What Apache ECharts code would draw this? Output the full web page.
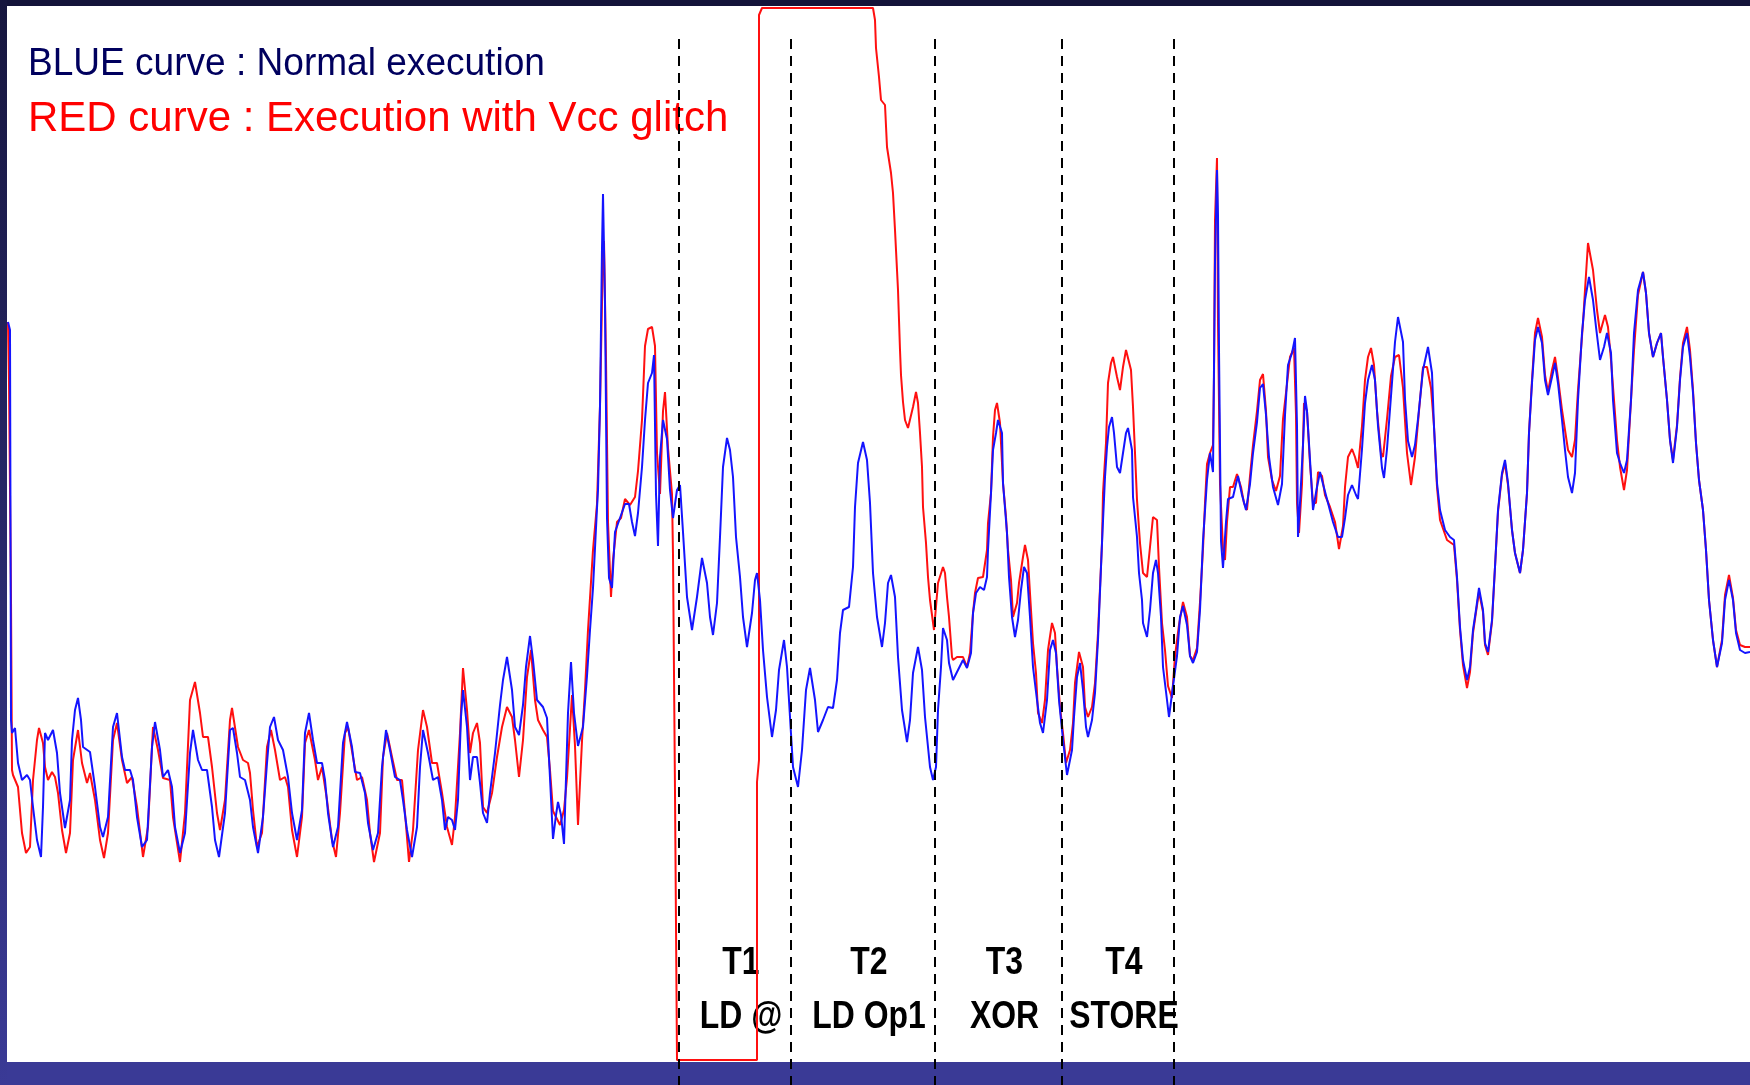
<!DOCTYPE html>
<html>
<head>
<meta charset="utf-8">
<title>Normal execution vs Vcc glitch</title>
<script src="https://cdn.jsdelivr.net/npm/echarts@6/dist/echarts.min.js"></script>
<style>
  html, body { margin: 0; padding: 0; background: #fff; }
  #chart { width: 1750px; height: 1085px; }
</style>
</head>
<body>
<div id="chart"></div>
<script>
const blueT = [
  8, 10, 11, 12, 15, 18, 22, 27, 30, 33,
  37, 41, 43, 45, 48, 53, 57, 60, 65, 70,
  72, 75, 78, 81, 83, 90, 95, 100, 103, 108,
  113, 117, 122, 125, 130, 133, 137, 142, 147, 152,
  155, 160, 163, 168, 172, 175, 180, 185, 190, 193,
  198, 202, 207, 212, 215, 219, 225, 230, 233, 237,
  240, 245, 250, 253, 258, 263, 267, 270, 274, 278,
  283, 288, 292, 297, 302, 305, 309, 313, 317, 322,
  325, 328, 333, 338, 343, 347, 352, 355, 360, 365,
  368, 373, 378, 382, 386, 390, 395, 400, 403, 407,
  412, 417, 420, 423, 428, 433, 438, 442, 445, 448,
  452, 455, 458, 461, 463, 467, 470, 473, 477, 480,
  483, 487, 490, 495, 500, 503, 507, 512, 515, 519,
  523, 526, 530, 533, 537, 543, 547, 550, 553, 556,
  558, 561, 564, 568, 571, 574, 578, 583, 587, 590,
  593, 597, 598, 600, 602, 603, 605, 607, 609, 612,
  615, 620, 625, 629, 632, 635, 638, 642, 645, 648,
  652, 654, 656, 658, 660, 663, 667, 670, 673, 677,
  680, 683, 687, 692, 697, 702, 707, 710, 713, 717,
  720, 723, 727, 730, 733, 736, 740, 743, 747, 752,
  755, 757, 760, 763, 767, 772, 776, 779, 784, 787,
  790, 793, 798, 802, 806, 810, 815, 818, 823, 828,
  833, 837, 840, 843, 849, 853, 855, 858, 863, 867,
  870, 873, 877, 882, 885, 888, 891, 895, 898, 902,
  907, 910, 913, 918, 922, 925, 930, 933, 936, 938,
  941, 943, 947, 949, 953, 958, 963, 967, 971, 973,
  976, 980, 984, 987, 988, 991, 993, 996, 998, 1002,
  1003, 1007, 1009, 1012, 1015, 1018, 1021, 1024, 1027, 1030,
  1033, 1037, 1040, 1043, 1047, 1050, 1053, 1056, 1059, 1063,
  1067, 1072, 1074, 1077, 1080, 1083, 1086, 1088, 1092, 1095,
  1098, 1102, 1105, 1107, 1109, 1112, 1114, 1117, 1120, 1123,
  1126, 1128, 1132, 1133, 1137, 1139, 1142, 1143, 1147, 1150,
  1153, 1156, 1158, 1161, 1163, 1167, 1169, 1173, 1177, 1180,
  1183, 1187, 1190, 1193, 1197, 1200, 1203, 1207, 1210, 1213,
  1215, 1217, 1218, 1219, 1221, 1223, 1226, 1228, 1233, 1236,
  1238, 1242, 1246, 1250, 1253, 1257, 1260, 1263, 1266, 1269,
  1273, 1278, 1282, 1285, 1288, 1292, 1295, 1297, 1298, 1300,
  1303, 1305, 1307, 1311, 1313, 1317, 1320, 1323, 1328, 1333,
  1338, 1342, 1345, 1348, 1352, 1356, 1358, 1362, 1365, 1368,
  1372, 1375, 1378, 1382, 1384, 1387, 1391, 1395, 1398, 1403,
  1405, 1408, 1412, 1415, 1418, 1423, 1428, 1432, 1434, 1437,
  1440, 1445, 1450, 1454, 1457, 1460, 1463, 1467, 1470, 1473,
  1476, 1479, 1483, 1485, 1488, 1492, 1495, 1498, 1502, 1505,
  1508, 1512, 1515, 1520, 1523, 1527, 1529, 1532, 1535, 1538,
  1542, 1545, 1548, 1552, 1555, 1558, 1562, 1565, 1568, 1572,
  1575, 1578, 1582, 1585, 1589, 1593, 1596, 1600, 1604, 1607,
  1611, 1613, 1617, 1620, 1624, 1627, 1631, 1634, 1638, 1643,
  1646, 1649, 1653, 1657, 1661, 1663, 1667, 1670, 1673, 1677,
  1680, 1683, 1687, 1690, 1693, 1696, 1699, 1703, 1706, 1709,
  1713, 1717, 1722, 1725, 1729, 1733, 1736, 1740, 1745, 1750
];
const blueV = [
  739, 731, 341, 328, 333, 298, 281, 286, 281, 254,
  221, 204, 254, 328, 321, 331, 308, 268, 233, 261,
  321, 351, 363, 341, 314, 309, 274, 234, 224, 244,
  334, 348, 304, 291, 291, 281, 244, 214, 221, 314,
  339, 311, 284, 291, 274, 234, 208, 228, 308, 331,
  301, 291, 291, 254, 221, 204, 248, 331, 333, 308,
  284, 281, 261, 234, 208, 244, 298, 334, 344, 321,
  311, 284, 248, 221, 251, 328, 348, 321, 298, 298,
  281, 248, 214, 234, 318, 339, 314, 289, 288, 268,
  238, 211, 228, 294, 331, 311, 284, 281, 261, 231,
  204, 234, 294, 331, 308, 281, 284, 261, 231, 244,
  241, 231, 261, 344, 371, 334, 281, 304, 304, 278,
  248, 238, 268, 308, 356, 381, 404, 371, 334, 326,
  356, 394, 425, 401, 361, 354, 343, 283, 222, 246,
  259, 246, 217, 348, 399, 348, 315, 334, 385, 431,
  473, 553, 571, 655, 813, 867, 757, 543, 483, 473,
  529, 543, 557, 557, 539, 525, 548, 594, 641, 678,
  688, 706, 567, 515, 604, 641, 622, 571, 543, 571,
  576, 529, 464, 431, 464, 503, 478, 444, 426, 458,
  524, 594, 623, 611, 584, 524, 484, 444, 414, 448,
  481, 488, 461, 411, 364, 324, 351, 391, 421, 394,
  344, 294, 274, 311, 371, 393, 361, 329, 341, 354,
  353, 381, 428, 451, 454, 494, 554, 598, 619, 601,
  558, 488, 444, 414, 438, 478, 486, 464, 404, 351,
  319, 341, 388, 414, 391, 344, 294, 281, 294, 351,
  394, 433, 421, 398, 381, 391, 401, 393, 408, 448,
  468, 474, 471, 484, 511, 568, 611, 628, 641, 628,
  578, 528, 484, 444, 424, 441, 471, 494, 488, 444,
  394, 361, 338, 328, 361, 411, 421, 408, 361, 321,
  286, 311, 344, 384, 398, 371, 334, 324, 341, 368,
  421, 518, 584, 614, 634, 644, 628, 594, 588, 608,
  628, 633, 611, 564, 524, 488, 461, 438, 424, 451,
  488, 501, 488, 444, 394, 361, 344, 375, 405, 444,
  455, 436, 405, 398, 409, 451, 520, 581, 608, 589,
  799, 891, 845, 711, 520, 493, 539, 562, 564, 577,
  585, 566, 551, 577, 608, 639, 673, 677, 646, 604,
  574, 556, 577, 646, 696, 708, 723, 635, 524, 558,
  616, 665, 650, 585, 551, 574, 589, 577, 558, 539,
  524, 524, 543, 566, 576, 566, 562, 612, 658, 681,
  696, 681, 635, 593, 583, 612, 665, 719, 744, 719,
  662, 620, 604, 616, 642, 691, 714, 688, 634, 578,
  551, 531, 524, 521, 484, 434, 401, 381, 394, 431,
  451, 473, 451, 418, 409, 441, 494, 551, 588, 601,
  578, 531, 508, 488, 511, 568, 628, 678, 721, 734,
  718, 681, 666, 684, 698, 678, 641, 611, 584, 568,
  588, 661, 728, 761, 784, 761, 734, 701, 714, 728,
  708, 661, 608, 598, 588, 601, 661, 728, 771, 789,
  768, 728, 704, 718, 728, 704, 661, 621, 598, 634,
  681, 714, 728, 704, 668, 618, 581, 551, 511, 461,
  421, 394, 418, 461, 481, 461, 428, 411, 408, 409
];

const redT = [
  8, 9, 10, 11, 12, 13, 15, 18, 22, 26,
  30, 33, 37, 39, 43, 45, 48, 52, 55, 58,
  62, 66, 70, 73, 78, 82, 87, 90, 95, 100,
  104, 108, 113, 117, 122, 127, 132, 137, 143, 148,
  153, 158, 163, 170, 173, 180, 185, 190, 195, 200,
  203, 208, 212, 217, 220, 225, 230, 232, 238, 243,
  248, 250, 253, 257, 262, 267, 271, 275, 280, 285,
  288, 292, 297, 302, 305, 309, 315, 318, 322, 327,
  332, 336, 340, 345, 348, 353, 357, 362, 367, 370,
  374, 380, 383, 387, 392, 397, 402, 405, 409, 413,
  418, 423, 427, 432, 437, 442, 447, 452, 455, 460,
  463, 467, 470, 473, 477, 480, 483, 487, 492, 497,
  502, 507, 512, 515, 519, 523, 527, 531, 535, 538,
  543, 547, 550, 553, 560, 564, 567, 572, 575, 578,
  582, 585, 588, 593, 597, 600, 603, 604, 606, 608,
  611, 613, 617, 621, 625, 630, 635, 638, 642, 645,
  648, 652, 655, 657, 660, 663, 665, 668, 672, 673,
  675, 677, 757, 757, 759, 759, 762, 873, 875, 876,
  879, 881, 885, 887, 891, 893, 895, 898, 900, 901,
  903, 905, 908, 913, 916, 918, 920, 922, 923, 926,
  928, 930, 934, 938, 943, 945, 947, 949, 952, 953,
  957, 963, 967, 970, 973, 975, 978, 983, 987, 988,
  991, 993, 995, 997, 1000, 1003, 1006, 1008, 1011, 1013,
  1017, 1019, 1023, 1025, 1028, 1031, 1033, 1036, 1038, 1042,
  1045, 1048, 1052, 1055, 1057, 1060, 1063, 1066, 1070, 1073,
  1075, 1079, 1083, 1085, 1088, 1092, 1095, 1098, 1102, 1103,
  1106, 1108, 1111, 1113, 1117, 1120, 1123, 1126, 1128, 1131,
  1133, 1135, 1137, 1140, 1143, 1147, 1150, 1153, 1157, 1159,
  1162, 1165, 1168, 1172, 1175, 1179, 1183, 1187, 1190, 1193,
  1197, 1200, 1203, 1205, 1207, 1210, 1213, 1214, 1215, 1217,
  1218, 1220, 1223, 1225, 1227, 1230, 1233, 1237, 1241, 1244,
  1247, 1250, 1253, 1257, 1260, 1263, 1266, 1268, 1272, 1276,
  1280, 1283, 1287, 1290, 1294, 1296, 1297, 1299, 1302, 1304,
  1307, 1310, 1313, 1316, 1318, 1322, 1325, 1330, 1335, 1339,
  1343, 1345, 1348, 1352, 1355, 1358, 1362, 1365, 1368, 1371,
  1374, 1377, 1381, 1383, 1387, 1391, 1395, 1399, 1403, 1407,
  1411, 1415, 1419, 1423, 1427, 1431, 1434, 1437, 1440, 1447,
  1454, 1457, 1460, 1463, 1467, 1470, 1473, 1476, 1479, 1483,
  1485, 1488, 1492, 1495, 1498, 1502, 1505, 1508, 1512, 1515,
  1520, 1523, 1527, 1529, 1532, 1535, 1538, 1542, 1545, 1548,
  1552, 1555, 1558, 1562, 1565, 1568, 1572, 1575, 1578, 1583,
  1585, 1588, 1593, 1597, 1600, 1605, 1608, 1611, 1617, 1620,
  1624, 1627, 1631, 1634, 1638, 1643, 1646, 1649, 1653, 1657,
  1661, 1663, 1667, 1670, 1673, 1677, 1680, 1683, 1687, 1690,
  1693, 1696, 1699, 1703, 1706, 1709, 1713, 1717, 1722, 1725,
  1729, 1733, 1736, 1740, 1745, 1750
];
const redV = [
  739, 678, 678, 463, 291, 286, 286, 274, 228, 208,
  214, 281, 321, 333, 318, 294, 281, 289, 284, 268,
  231, 208, 228, 301, 331, 298, 278, 288, 261, 221,
  203, 228, 321, 338, 301, 278, 284, 254, 204, 234,
  334, 311, 283, 281, 244, 199, 248, 361, 379, 348,
  324, 324, 294, 248, 231, 261, 341, 353, 314, 301,
  298, 288, 251, 214, 228, 314, 331, 311, 281, 284,
  274, 231, 204, 244, 318, 331, 301, 281, 294, 261,
  221, 204, 248, 328, 334, 304, 281, 284, 261, 228,
  199, 228, 304, 328, 304, 281, 281, 248, 199, 231,
  311, 351, 334, 298, 298, 268, 234, 216, 244, 328,
  393, 351, 308, 328, 338, 318, 254, 248, 268, 304,
  334, 354, 344, 321, 284, 321, 384, 411, 361, 341,
  331, 324, 291, 250, 236, 251, 283, 366, 315, 236,
  320, 371, 431, 511, 557, 655, 809, 820, 702, 539,
  464, 501, 539, 543, 562, 556, 564, 590, 641, 715,
  732, 734, 715, 608, 567, 650, 669, 613, 567, 506,
  269, 1, 1, 279, 301, 1046, 1053, 1053, 1041, 1013,
  984, 961, 956, 914, 888, 868, 831, 771, 711, 686,
  659, 641, 633, 654, 669, 658, 628, 594, 554, 518,
  484, 461, 431, 478, 494, 488, 464, 444, 404, 401,
  404, 404, 394, 408, 448, 468, 483, 484, 511, 538,
  568, 624, 651, 658, 638, 578, 544, 511, 481, 444,
  458, 478, 504, 516, 501, 451, 418, 388, 348, 338,
  361, 411, 438, 428, 394, 354, 328, 298, 311, 338,
  378, 409, 394, 354, 344, 354, 378, 428, 518, 568,
  618, 678, 698, 704, 684, 671, 694, 711, 713, 691,
  654, 608, 561, 518, 488, 484, 514, 544, 541, 494,
  438, 411, 375, 363, 405, 436, 459, 444, 405, 401,
  413, 459, 512, 558, 597, 608, 616, 685, 841, 903,
  738, 577, 512, 501, 539, 574, 574, 587, 574, 558,
  551, 585, 616, 650, 681, 687, 650, 604, 581, 570,
  585, 642, 677, 704, 713, 646, 558, 528, 577, 658,
  650, 597, 558, 558, 589, 585, 566, 554, 539, 512,
  535, 574, 604, 612, 604, 593, 635, 681, 704, 713,
  696, 650, 608, 604, 642, 685, 704, 706, 673, 608,
  576, 604, 650, 694, 694, 673, 635, 574, 541, 521,
  516, 481, 431, 396, 373, 389, 428, 449, 469, 449,
  416, 406, 439, 494, 549, 586, 598, 576, 531, 508,
  488, 511, 568, 628, 681, 728, 743, 724, 686, 669,
  691, 704, 683, 651, 631, 611, 604, 621, 671, 738,
  771, 818, 791, 751, 728, 746, 734, 701, 621, 594,
  571, 591, 661, 711, 766, 789, 768, 728, 704, 718,
  728, 704, 661, 621, 601, 636, 683, 718, 734, 711,
  671, 618, 581, 551, 511, 461, 421, 394, 421, 466,
  486, 463, 431, 416, 414, 414
];

// instruction boundaries (dashed lines) and phase names
const stepX = [679, 791, 935, 1062, 1174];
const stepNames = ['T1', 'T2', 'T3', 'T4'];
const stepOps = ['LD @', 'LD Op1', 'XOR', 'STORE'];
const legendTexts = ['BLUE curve : Normal execution', 'RED curve : Execution with Vcc glitch'];

const zip = (t, v) => t.map((x, i) => [x, v[i]]);
const FONT = '"Liberation Sans", Arial, Helvetica, sans-serif';

const chart = echarts.init(document.getElementById('chart'));

chart.setOption({
  animation: false,
  backgroundColor: '#ffffff',
  grid: { left: 7, right: 0, top: 6, bottom: 0, containLabel: false },
  xAxis: { type: 'value', min: 7, max: 1750, show: false },
  yAxis: { type: 'value', min: -24, max: 1055, show: false },
  series: [
    {
      name: 'glitch',
      type: 'line',
      data: zip(redT, redV),
      showSymbol: false,
      symbol: 'none',
      z: 2,
      lineStyle: { color: '#ff1010', width: 2 }
    },
    {
      name: 'normal',
      type: 'line',
      data: zip(blueT, blueV),
      showSymbol: false,
      symbol: 'none',
      z: 3,
      lineStyle: { color: '#1414ff', width: 2 }
    },
    {
      name: 'steps',
      type: 'line',
      data: [],
      z: 5,
      silent: true,
      markLine: {
        silent: true,
        symbol: ['none', 'none'],
        label: { show: false },
        lineStyle: { color: '#000', width: 2, type: [10, 7] },
        data: stepX.map(x => [{ coord: [x, 1022] }, { coord: [x, -24] }])
      }
    }
  ]
});

// frame, legend text and phase labels
const els = [
  { type: 'rect', z: 1, shape: { x: 0, y: 0, width: 1750, height: 6 }, style: { fill: '#14143a' } },
  { type: 'rect', z: 1, shape: { x: 0, y: 1062, width: 1750, height: 23 }, style: { fill: '#3a3a96' } },
  {
    type: 'rect', z: 1, shape: { x: 0, y: 0, width: 7, height: 1085 },
    style: { fill: new echarts.graphic.LinearGradient(0, 0, 0, 1, [
      { offset: 0, color: '#16163e' }, { offset: 1, color: '#3a3a96' }
    ]) }
  },
  {
    type: 'text', z: 1, x: 28, y: 64, scaleX: 0.95,
    style: { text: legendTexts[0], font: '39px ' + FONT, fill: '#00005e', align: 'left', verticalAlign: 'middle' }
  },
  {
    type: 'text', z: 1, x: 28, y: 119,
    style: { text: legendTexts[1], font: '42px ' + FONT, fill: '#ff0000', align: 'left', verticalAlign: 'middle' }
  }
];

stepNames.forEach((name, i) => {
  const mid = (stepX[i] + stepX[i + 1]) / 2 + 6;
  const px = chart.convertToPixel({ gridIndex: 0 }, [mid, 0])[0];
  [[name, 964], [stepOps[i], 1018]].forEach(([txt, y]) => {
    els.push({
      type: 'text', z: 1, x: px, y: y, scaleX: 0.84,
      style: { text: txt, font: 'bold 38px ' + FONT, fill: '#000', align: 'center', verticalAlign: 'middle' }
    });
  });
});

chart.setOption({ graphic: els });
</script>
</body>
</html>
